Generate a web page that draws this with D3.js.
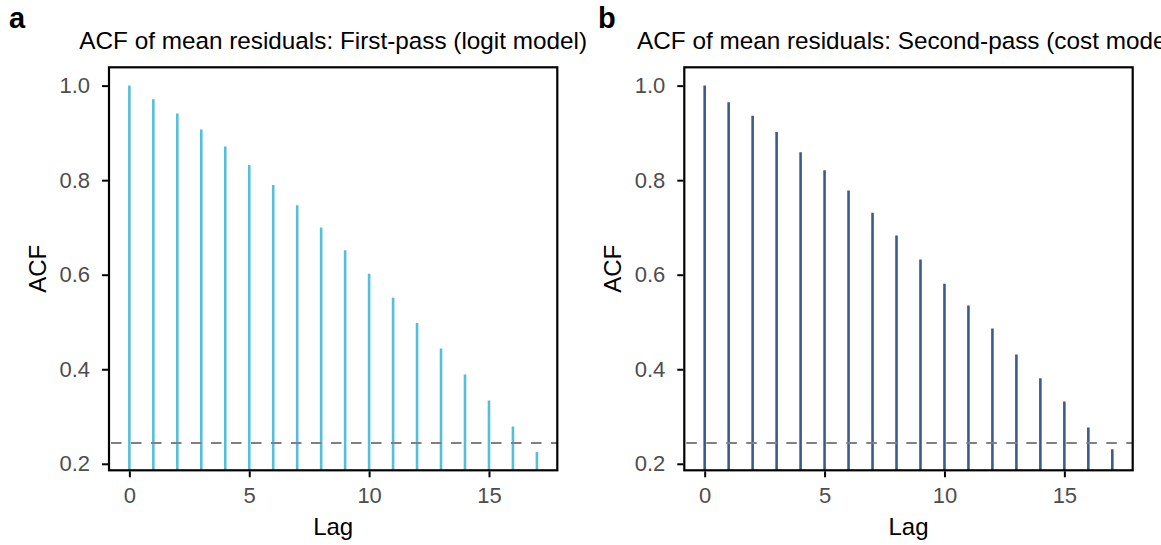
<!DOCTYPE html>
<html>
<head>
<meta charset="utf-8">
<script src="https://cdn.jsdelivr.net/npm/d3@7"></script>
<style>
  body { margin: 0; background: #ffffff; }
  text { font-family: "Liberation Sans", Arial, sans-serif; }
</style>
</head>
<body>
<svg id="chart" width="1161" height="545"></svg>
<script>
// ---- data ----
const lags = [0, 1, 2, 3, 4, 5, 6, 7, 8, 9, 10, 11, 12, 13, 14, 15, 16, 17];
const acfFirstPass = [1.000, 0.971, 0.941, 0.907, 0.871, 0.832, 0.790, 0.747, 0.700, 0.652,
                      0.602, 0.551, 0.498, 0.444, 0.389, 0.334, 0.279, 0.225];
const acfSecondPass = [1.000, 0.965, 0.936, 0.902, 0.859, 0.821, 0.778, 0.731, 0.683, 0.632,
                       0.581, 0.535, 0.486, 0.431, 0.381, 0.332, 0.277, 0.231];
const ciBound = 0.244;
const yTicks = [0.2, 0.4, 0.6, 0.8, 1.0];
const xTicks = [0, 5, 10, 15];
const panelTags = ["a", "b"];
const panelTitles = [
  "ACF of mean residuals: First-pass (logit model)",
  "ACF of mean residuals: Second-pass (cost model)"
];

// ---- layout ----
const svg = d3.select("#chart");
const plotTop = 67.3, plotBottom = 470.3;
const panels = [
  { values: acfFirstPass, color: "#56BEDA", x0: 109, x1: 557.3, tagX: 9 },
  { values: acfSecondPass, color: "#3E5A8C", x0: 684.3, x1: 1132.7, tagX: 598 }
];

const ext = d3.extent(acfFirstPass);
const pad = (ext[1] - ext[0]) * 0.05;
const y = d3.scaleLinear().domain([ext[0] - pad, ext[1] + pad]).range([plotBottom, plotTop]);

panels.forEach((p, i) => {
  const xExt = d3.extent(lags);
  const xPad = (xExt[1] - xExt[0]) * 0.05;
  const x = d3.scaleLinear().domain([xExt[0] - xPad, xExt[1] + xPad]).range([p.x0, p.x1]);

  const g = svg.append("g");
  const clipId = "clip" + i;
  g.append("clipPath").attr("id", clipId)
    .append("rect").attr("x", p.x0).attr("y", plotTop).attr("width", p.x1 - p.x0).attr("height", plotBottom - plotTop);

  const plot = g.append("g").attr("clip-path", `url(#${clipId})`);

  plot.selectAll("line.bar").data(lags).enter().append("line")
    .attr("class", "bar")
    .attr("x1", d => x(d)).attr("x2", d => x(d))
    .attr("y1", y(0)).attr("y2", (d, j) => y(p.values[j]))
    .attr("stroke", p.color).attr("stroke-width", 2.6);

  plot.append("line")
    .attr("x1", p.x0).attr("x2", p.x1)
    .attr("y1", y(ciBound)).attr("y2", y(ciBound))
    .attr("stroke", "#808080").attr("stroke-width", 2.2)
    .attr("stroke-dasharray", "10.5,9.5").attr("stroke-dashoffset", -2);

  // border
  g.append("rect")
    .attr("x", p.x0).attr("y", plotTop).attr("width", p.x1 - p.x0).attr("height", plotBottom - plotTop)
    .attr("fill", "none").attr("stroke", "#000").attr("stroke-width", 2.2);

  // axes
  const yAxis = g.append("g").attr("transform", `translate(${p.x0 - 1},0)`)
    .call(d3.axisLeft(y).tickValues(yTicks).tickFormat(d3.format(".1f")).tickSize(6).tickPadding(12));
  const xAxis = g.append("g").attr("transform", `translate(0,${plotBottom + 1})`)
    .call(d3.axisBottom(x).tickValues(xTicks).tickFormat(d3.format("d")).tickSize(6).tickPadding(10));
  [yAxis, xAxis].forEach(a => {
    a.select(".domain").remove();
    a.selectAll(".tick line").attr("stroke", "#000").attr("stroke-width", 2);
    a.selectAll(".tick text").attr("fill", "#4D4D4D")
      .style("font-size", "22px").style("font-family", "'Liberation Sans', Arial, sans-serif");
  });

  // titles
  const cx = (p.x0 + p.x1) / 2;
  g.append("text").attr("x", cx).attr("y", 48.5).attr("text-anchor", "middle")
    .style("font-size", "24.3px").attr("fill", "#000").text(panelTitles[i]);
  g.append("text").attr("x", cx).attr("y", 535).attr("text-anchor", "middle")
    .style("font-size", "24px").attr("fill", "#000").text("Lag");
  g.append("text")
    .attr("transform", `translate(${p.x0 - 63},${(plotTop + plotBottom) / 2}) rotate(-90)`)
    .attr("text-anchor", "middle")
    .style("font-size", "24px").attr("fill", "#000").text("ACF");
  g.append("text").attr("x", p.tagX).attr("y", 28)
    .style("font-size", "29px").style("font-weight", "bold").attr("fill", "#000").text(panelTags[i]);
});
</script>
</body>
</html>
